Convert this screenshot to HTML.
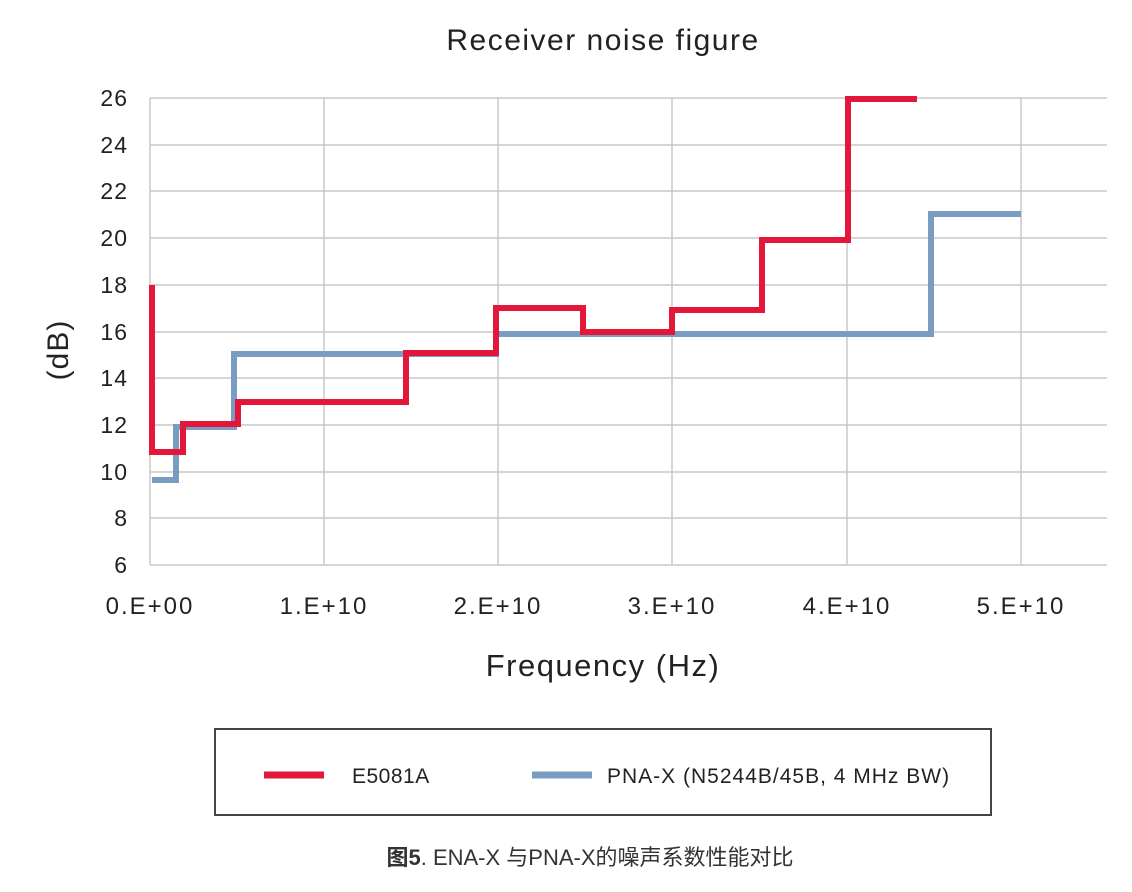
<!DOCTYPE html>
<html><head><meta charset="utf-8"><style>
body{margin:0;background:#fff;width:1132px;height:887px;overflow:hidden}
svg text{font-family:"Liberation Sans","Noto Sans CJK SC",sans-serif}
</style></head><body>
<svg width="1132" height="887" xmlns="http://www.w3.org/2000/svg">
<text x="603" y="50" font-size="30" letter-spacing="1.5" text-anchor="middle" fill="#222">Receiver noise figure</text>
<g stroke="#c8c8c8" stroke-width="1.5">
<line x1="150" y1="98" x2="1107" y2="98"/><line x1="150" y1="145" x2="1107" y2="145"/>
<line x1="150" y1="191" x2="1107" y2="191"/><line x1="150" y1="238" x2="1107" y2="238"/>
<line x1="150" y1="285" x2="1107" y2="285"/><line x1="150" y1="332" x2="1107" y2="332"/>
<line x1="150" y1="378" x2="1107" y2="378"/><line x1="150" y1="425" x2="1107" y2="425"/>
<line x1="150" y1="472" x2="1107" y2="472"/><line x1="150" y1="518" x2="1107" y2="518"/>
<line x1="150" y1="565" x2="1107" y2="565"/>
<line x1="324" y1="98" x2="324" y2="565"/><line x1="498" y1="98" x2="498" y2="565"/>
<line x1="672" y1="98" x2="672" y2="565"/><line x1="847" y1="98" x2="847" y2="565"/>
<line x1="1021" y1="98" x2="1021" y2="565"/><line x1="150" y1="98" x2="150" y2="565"/>
</g>
<g font-size="23" letter-spacing="1" fill="#222" text-anchor="end">
<text x="128" y="106">26</text><text x="128" y="153">24</text><text x="128" y="199">22</text>
<text x="128" y="246">20</text><text x="128" y="293">18</text><text x="128" y="340">16</text>
<text x="128" y="386">14</text><text x="128" y="433">12</text><text x="128" y="480">10</text>
<text x="128" y="526">8</text><text x="128" y="573">6</text>
</g>
<g font-size="24" letter-spacing="2" fill="#222" text-anchor="middle">
<text x="150" y="614">0.E+00</text><text x="324" y="614">1.E+10</text><text x="498" y="614">2.E+10</text>
<text x="672" y="614">3.E+10</text><text x="847" y="614">4.E+10</text><text x="1021" y="614">5.E+10</text>
</g>
<text x="603" y="676" font-size="31" letter-spacing="1.5" text-anchor="middle" fill="#222">Frequency (Hz)</text>
<text transform="translate(68,350) rotate(-90)" font-size="30" letter-spacing="1" text-anchor="middle" fill="#222">(dB)</text>
<polyline fill="none" stroke="#7a9cc0" stroke-width="6" points="152,480 176,480 176,427 234,427 234,354 496,354 496,334 931,334 931,214 1021,214"/>
<polyline fill="none" stroke="#e3173a" stroke-width="6" points="152,285 152,452 183,452 183,424 238,424 238,402 406,402 406,353 496,353 496,308 583,308 583,332 672,332 672,310 762,310 762,240 848,240 848,99 917,99"/>
<rect x="215" y="729" width="776" height="86" fill="none" stroke="#444" stroke-width="2"/>
<line x1="264" y1="775" x2="324" y2="775" stroke="#e3173a" stroke-width="7"/>
<text x="352" y="783" font-size="21" letter-spacing="0.5" fill="#222">E5081A</text>
<line x1="532" y1="775" x2="592" y2="775" stroke="#7a9cc0" stroke-width="7"/>
<text x="607" y="783" font-size="21" letter-spacing="1" fill="#222">PNA-X (N5244B/45B, 4 MHz BW)</text>
<text x="590" y="865" font-size="22" text-anchor="middle" fill="#333"><tspan font-weight="bold">图5</tspan>. ENA-X 与PNA-X的噪声系数性能对比</text>
</svg>
</body></html>
